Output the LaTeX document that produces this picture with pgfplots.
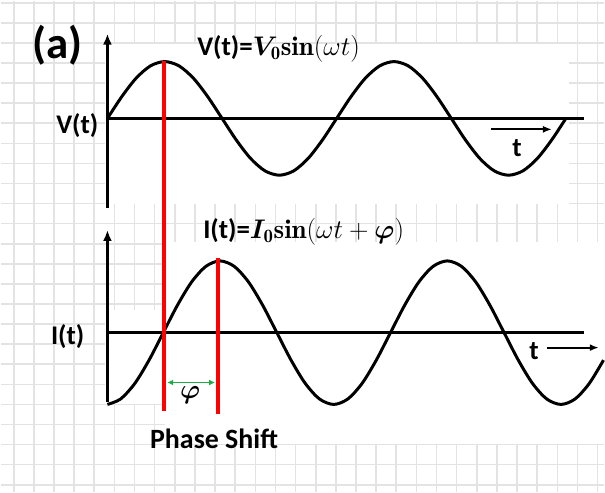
\documentclass[border=0pt]{standalone}
\usepackage{fix-cm}
\usepackage{pgfplots}
\pgfplotsset{compat=1.18}
\usepackage{bm}
\usepackage{fontspec}
\newfontfamily\calfont{Carlito}
\usetikzlibrary{arrows.meta}
\definecolor{phigreen}{RGB}{34,170,72}
\begin{document}
\begin{tikzpicture}
\begin{axis}[
  width=605pt, height=493pt, scale only axis,
  xmin=0, xmax=605, ymin=0, ymax=493,
  axis line style={draw=none},
  xtick={13,33.2,...,600}, ytick={7.4,27.55,...,492},
  xmajorticks=false, ymajorticks=false,
  xmajorgrids=true, ymajorgrids=true,
  major grid style={draw=gray!22, line width=1.6pt},
  clip=false,
]
% white patches behind the plots
\addplot[fill=white, draw=none] coordinates {(105,450)(570,450)(570,289)(105,289)} -- cycle;
\addplot[fill=white, draw=none] coordinates {(165,251)(605,251)(605,48)(165,48)} -- cycle;
\addplot[fill=white, draw=none] coordinates {(105,183)(166,183)(166,88)(105,88)} -- cycle;

% axes of the two diagrams
\addplot[black, line width=3pt, -{Latex[length=11pt,width=9pt]}] coordinates {(107,285)(107,460)};
\addplot[black, line width=3pt] coordinates {(107,375)(585,375)};
\addplot[black, line width=3pt, -{Latex[length=11pt,width=9pt]}] coordinates {(107,90)(107,263)};
\addplot[black, line width=3pt] coordinates {(107,160)(585,160)};

% V(t)
\addplot[black, line width=3pt, smooth] coordinates {
(107,375)(121.375,396.81)(135.75,415.30)(150.125,427.66)(164.5,432)(178.875,427.66)(193.25,415.30)(207.625,396.81)
(222,375)(236.375,353.19)(250.75,334.70)(265.125,322.34)(279.5,318)(293.875,322.34)(308.25,334.70)(322.625,353.19)
(337,375)(351.375,396.81)(365.75,415.30)(380.125,427.66)(394.5,432)(408.875,427.66)(423.25,415.30)(437.625,396.81)
(452,375)(466.375,353.19)(480.75,334.70)(495.125,322.34)(509.5,318)(523.875,322.34)(538.25,334.70)(552.625,353.19)
(567,375)};

% I(t)
\addplot[black, line width=3pt, smooth] coordinates {
(107,88)(120.25,93.48)(134.5,109.09)(148.75,132.45)(163,160)(177.25,187.55)(191.5,210.91)(205.75,226.52)
(220,232)(234.25,226.52)(248.5,210.91)(262.75,187.55)(277,160)(291.25,132.45)(305.5,109.09)(319.75,93.48)
(334,88)(348.25,93.48)(362.5,109.09)(376.75,132.45)(391,160)(405.25,187.55)(419.5,210.91)(433.75,226.52)
(448,232)(462.25,226.52)(476.5,210.91)(490.75,187.55)(505,160)(519.25,132.45)(533.5,109.09)(547.75,93.48)
(562,88)(576.25,93.48)(590.5,109.09)(604.75,132.45)};

% red phase lines
\addplot[red, line width=4pt] coordinates {(164,433)(164,81)};
\addplot[red, line width=4pt] coordinates {(218,235)(218,78)};

% green phase arrow
\addplot[phigreen, line width=2pt, {Latex[length=6pt,width=6pt]}-{Latex[length=6pt,width=6pt]}] coordinates {(167,110)(215,110)};

% t arrows
\addplot[black, line width=2pt, -{Latex[length=9pt,width=7pt]}] coordinates {(492,364)(553,364)};
\addplot[black, line width=2pt, -{Latex[length=9pt,width=7pt]}] coordinates {(548,145)(600,145)};

% texts
\node[anchor=center] at (axis cs:57,448) {\calfont\bfseries\fontsize{45}{50}\selectfont (a)};
\node[anchor=west, inner sep=0pt] at (axis cs:197,445) {\fontsize{27}{30}\selectfont{\calfont\bfseries V(t)=}$\bm{V}_{\mathbf{0}}\mathbf{sin}(\omega t)$};
\node[anchor=west, inner sep=0pt] at (axis cs:203,261) {\fontsize{27}{30}\selectfont{\calfont\bfseries I(t)=}$\bm{I}_{\mathbf{0}}\mathbf{sin}(\omega t+\bm{\varphi})$};
\node[anchor=east, inner sep=0pt] at (axis cs:98,368) {\calfont\bfseries\fontsize{27}{30}\selectfont V(t)};
\node[anchor=east, inner sep=0pt] at (axis cs:84,156) {\calfont\bfseries\fontsize{27}{30}\selectfont I(t)};
\node[anchor=center] at (axis cs:518,345) {\calfont\bfseries\fontsize{27}{30}\selectfont t};
\node[anchor=center] at (axis cs:535,141) {\calfont\bfseries\fontsize{27}{30}\selectfont t};
\node[anchor=center] at (axis cs:190,97) {\fontsize{27}{30}\selectfont$\bm{\varphi}$};
\node[anchor=center] at (axis cs:214,53) {\calfont\bfseries\fontsize{28}{32}\selectfont Phase Shift};
\end{axis}
\end{tikzpicture}
\end{document}
